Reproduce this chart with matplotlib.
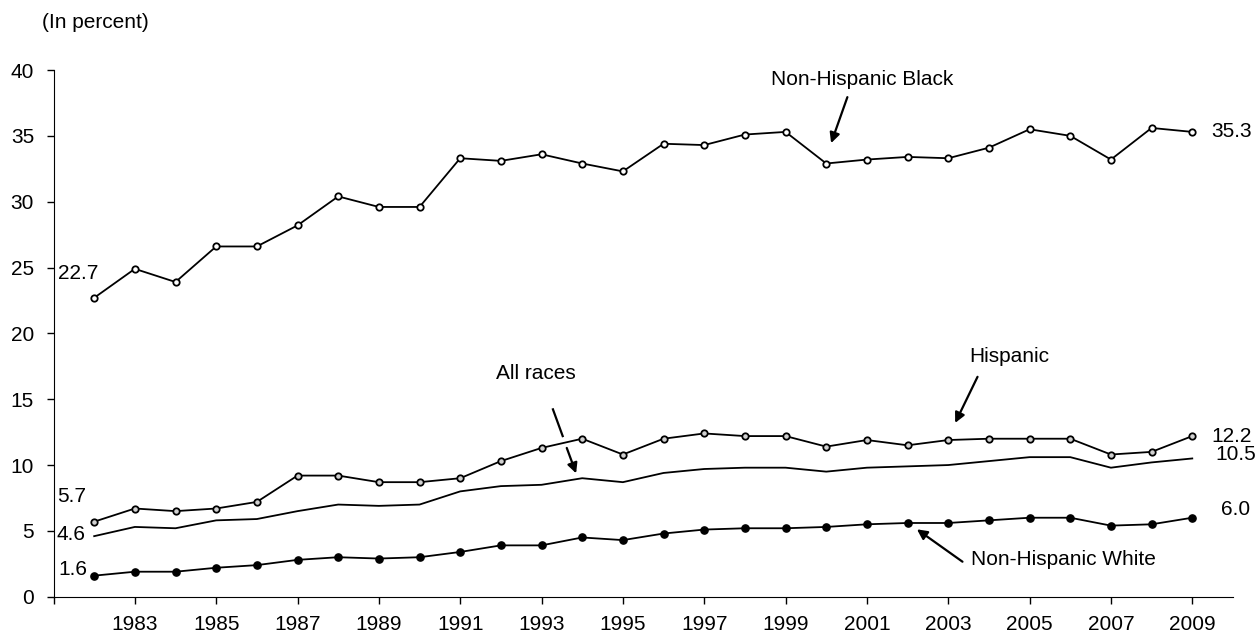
import matplotlib
import matplotlib.pyplot as plt

matplotlib.use('Agg')

plt.rcParams['font.family'] = ['Liberation Sans', 'DejaVu Sans']

years = list(range(1982, 2010))

black = [22.7, 24.9, 23.9, 26.6, 26.6, 28.2, 30.4, 29.6, 29.6, 33.3,
         33.1, 33.6, 32.9, 32.3, 34.4, 34.3, 35.1, 35.3, 32.9, 33.2,
         33.4, 33.3, 34.1, 35.5, 35.0, 33.2, 35.6, 35.3]
hispanic = [5.7, 6.7, 6.5, 6.7, 7.2, 9.2, 9.2, 8.7, 8.7, 9.0,
            10.3, 11.3, 12.0, 10.8, 12.0, 12.4, 12.2, 12.2, 11.4, 11.9,
            11.5, 11.9, 12.0, 12.0, 12.0, 10.8, 11.0, 12.2]
all_races = [4.6, 5.3, 5.2, 5.8, 5.9, 6.5, 7.0, 6.9, 7.0, 8.0,
             8.4, 8.5, 9.0, 8.7, 9.4, 9.7, 9.8, 9.8, 9.5, 9.8,
             9.9, 10.0, 10.3, 10.6, 10.6, 9.8, 10.2, 10.5]
white = [1.6, 1.9, 1.9, 2.2, 2.4, 2.8, 3.0, 2.9, 3.0, 3.4,
         3.9, 3.9, 4.5, 4.3, 4.8, 5.1, 5.2, 5.2, 5.3, 5.5,
         5.6, 5.6, 5.8, 6.0, 6.0, 5.4, 5.5, 6.0]

tick_years = list(range(1981, 2010, 2))
tick_labels = [''] + [str(y) for y in range(1983, 2010, 2)]

fig = plt.figure(figsize=(12.59, 6.33), dpi=100)
ax = fig.add_axes([0.0425, 0.0573, 0.9368, 0.8321])

ax.plot(years, black, color='black', lw=1.3, marker='o', ms=4.6,
        mfc='white', mec='black', mew=1.3)
ax.plot(years, hispanic, color='black', lw=1.3, marker='o', ms=4.6,
        mfc='#d0d0d0', mec='black', mew=1.3)
ax.plot(years, all_races, color='black', lw=1.3)
ax.plot(years, white, color='black', lw=1.3, marker='o', ms=5.2,
        mfc='black', mec='black')

ax.set_xlim(1981, 2010)
ax.set_ylim(0, 40)
ax.set_yticks(range(0, 41, 5))
ax.set_xticks(tick_years)
ax.set_xticklabels(tick_labels)
for s in ['top', 'right']:
    ax.spines[s].set_visible(False)
ax.tick_params(axis='both', labelsize=15, length=5, width=1, direction='out')
ax.tick_params(axis='x', pad=8)
ax.tick_params(axis='y', pad=9)

fs = 15
fig.text(0.033, 0.965, '(In percent)', fontsize=15, ha='left', va='center')

# end-point values
ax.text(1981.12, black[0] + 1.85, '22.7', fontsize=fs, ha='left', va='center')
ax.text(1981.1, hispanic[0] + 1.9, '5.7', fontsize=fs, ha='left', va='center')
ax.text(1981.07, all_races[0] + 0.15, '4.6', fontsize=fs, ha='left', va='center')
ax.text(1981.12, white[0] + 0.5, '1.6', fontsize=fs, ha='left', va='center')
ax.text(2009.46, black[-1], '35.3', fontsize=fs, ha='left', va='center')
ax.text(2009.48, hispanic[-1], '12.2', fontsize=fs, ha='left', va='center')
ax.text(2009.58, all_races[-1] + 0.3, '10.5', fontsize=fs, ha='left', va='center')
ax.text(2009.7, white[-1] + 0.65, '6.0', fontsize=fs, ha='left', va='center')

arrow = dict(arrowstyle='-|>', color='black', lw=1.6, mutation_scale=15,
             shrinkA=0, shrinkB=0)

ax.text(2000.88, 39.3, 'Non-Hispanic Black', fontsize=fs, ha='center', va='center')
ax.annotate('', xy=(2000.12, 34.45), xytext=(2000.52, 37.94), arrowprops=arrow)

ax.text(1992.85, 16.96, 'All races', fontsize=fs, ha='center', va='center')
ax.plot([1993.28, 1993.52], [14.23, 12.2], color='black', lw=1.6)
ax.annotate('', xy=(1993.85, 9.37), xytext=(1993.62, 11.3), arrowprops=arrow)

ax.text(2004.5, 18.28, 'Hispanic', fontsize=fs, ha='center', va='center')
ax.annotate('', xy=(2003.17, 13.2), xytext=(2003.72, 16.7), arrowprops=arrow)

ax.text(2005.83, 2.84, 'Non-Hispanic White', fontsize=fs, ha='center', va='center')
ax.annotate('', xy=(2002.23, 5.12), xytext=(2003.35, 2.66), arrowprops=arrow)

fig.savefig('out.png', dpi=100)
